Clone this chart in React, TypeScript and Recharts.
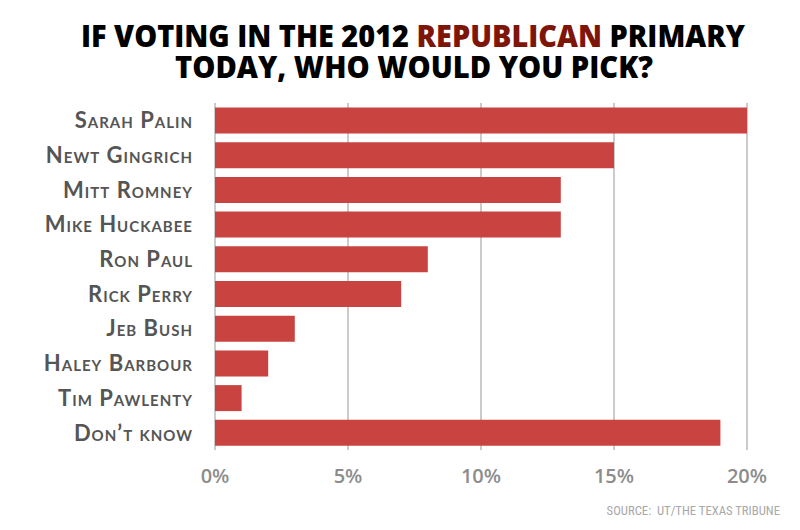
import React from "react";
import { BarChart, Bar, XAxis, YAxis, CartesianGrid } from "recharts";

const candidates = [
  "Sarah Palin",
  "Newt Gingrich",
  "Mitt Romney",
  "Mike Huckabee",
  "Ron Paul",
  "Rick Perry",
  "Jeb Bush",
  "Haley Barbour",
  "Tim Pawlenty",
  "Don\u2019t know",
];
const shares = [20, 15, 13, 13, 8, 7, 3, 2, 1, 19];
const xTicks = [0, 5, 10, 15, 20];

const data = candidates.map((name, i) => ({ name, value: shares[i] }));

const YTick = (props: any) => {
  const { x, y, payload } = props;
  return (
    <text
      x={x}
      y={y}
      dy="0.36em"
      textAnchor="end"
      fill="#555555"
      fontFamily="Lato, 'Open Sans', sans-serif"
      fontWeight={700}
      fontSize={22}
      style={{ fontVariant: "small-caps", letterSpacing: "1px" }}
    >
      {payload.value}
    </text>
  );
};

const XTick = (props: any) => {
  const { x, y, payload } = props;
  return (
    <text
      x={x}
      y={y}
      dy="0.71em"
      textAnchor="middle"
      fill="#8c8c8c"
      fontFamily="'Open Sans', sans-serif"
      fontWeight={600}
      fontSize={20}
    >
      {payload.value}%
    </text>
  );
};

export default function App() {
  return (
    <div style={{ position: "absolute", left: 0, top: 0, width: 800, height: 530, background: "#fff" }}>
      <BarChart
        width={800}
        height={530}
        data={data}
        layout="vertical"
        margin={{ top: 103, right: 53, bottom: 50, left: 0 }}
        barCategoryGap="13%"
      >
        <CartesianGrid horizontal={false} vertical stroke="#a8a8a8" strokeWidth={1.2} />
        <XAxis
          type="number"
          domain={[0, 20]}
          ticks={xTicks}
          axisLine={false}
          tickLine={false}
          tickSize={0}
          tickMargin={19}
          height={30}
          tick={<XTick />}
          interval={0}
        />
        <YAxis
          type="category"
          dataKey="name"
          width={215}
          axisLine={false}
          tickLine={false}
          tickSize={0}
          tickMargin={22}
          tick={<YTick />}
          interval={0}
        />
        <Bar dataKey="value" fill="#c94340" isAnimationActive={false} />
      </BarChart>
      <svg
        width={800}
        height={100}
        style={{ position: "absolute", left: 0, top: 0 }}
      >
        <text
          fontFamily="'Open Sans', sans-serif"
          fontWeight={800}
          fontSize={30}
          fill="#000"
        >
          <tspan x={81} y={47} textLength={664} lengthAdjust="spacingAndGlyphs">
            IF VOTING IN THE 2012 <tspan fill="#7e1509">REPUBLICAN</tspan> PRIMARY
          </tspan>
          <tspan x={175} y={78} textLength={478} lengthAdjust="spacingAndGlyphs">
            TODAY, WHO WOULD YOU PICK?
          </tspan>
        </text>
      </svg>
      <svg width={800} height={40} style={{ position: "absolute", left: 0, top: 495 }}>
        <text
          x={780}
          y={20}
          textAnchor="end"
          fontFamily="'Roboto', sans-serif"
          fontSize={12.7}
          fill="#a8a8a8"
          style={{ fontStretch: "condensed" }}
        >
          SOURCE:&#160; UT/THE TEXAS TRIBUNE
        </text>
      </svg>
    </div>
  );
}
